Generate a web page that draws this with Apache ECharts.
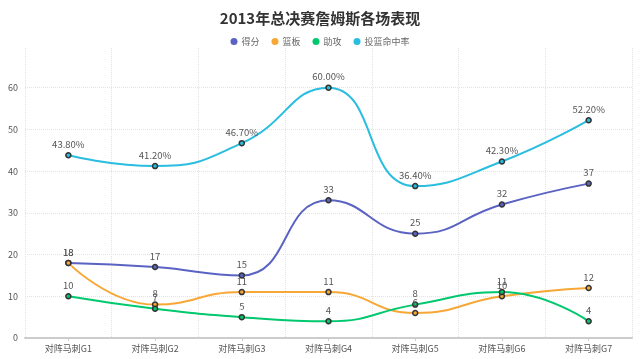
<!DOCTYPE html>
<html><head><meta charset="utf-8">
<script src="https://cdn.jsdelivr.net/npm/echarts@6/dist/echarts.min.js"></script>
<style>html,body{margin:0;padding:0;background:#fff}#c{width:640px;height:359px}</style>
</head><body><div id="c"></div>
<script>
var categories = ['对阵马刺G1','对阵马刺G2','对阵马刺G3','对阵马刺G4','对阵马刺G5','对阵马刺G6','对阵马刺G7'];
var points = [18,17,15,33,25,32,37];
var rebounds = [18,8,11,11,6,10,12];
var assists = [10,7,5,4,8,11,4];
var fgPct = [43.8,41.2,46.7,60.0,36.4,42.3,52.2];
var yTicks = [0,10,20,30,40,50,60];

var FONT = '"Noto Sans CJK SC", "Noto Sans", sans-serif';
var chart = echarts.init(document.getElementById('c'));
function mk(name, data, color, pct) {
  return {
    name: name, type: 'line', smooth: true, data: data,
    symbol: 'circle', symbolSize: 5,
    lineStyle: {color: color, width: 2},
    itemStyle: {color: color, borderColor: '#333', borderWidth: 1.5},
    label: {show: true, position: 'top', distance: 3, color: '#555', fontSize: 9.5, fontFamily: FONT,
      formatter: pct ? function(p){return p.value.toFixed(2)+'%';} : '{c}'},
    emphasis: {disabled: true}
  };
}
chart.setOption({
  animation: false,
  title: {text: '2013年总决赛詹姆斯各场表现', left: 'center', top: 6,
    textStyle: {fontSize: 15, fontWeight: 'bold', color: '#333', fontFamily: FONT}},
  legend: {top: 32, left: 'center', icon: 'circle', itemWidth: 7, itemHeight: 7, itemGap: 12,
    textStyle: {fontSize: 9, color: '#666', fontFamily: FONT, padding: [0,0,0,-1]},
    itemStyle: {borderWidth: 0}},
  grid: {left: 25, right: 8, top: 48, bottom: 21, containLabel: false},
  xAxis: {type: 'category', data: categories, boundaryGap: true,
    axisLine: {lineStyle: {color: '#ccc', width: 2}},
    axisTick: {show: true, alignWithLabel: true, length: 3, lineStyle: {color: '#ccc'}},
    axisLabel: {color: '#555', fontSize: 9, fontFamily: FONT, margin: 6, interval: 0},
    splitLine: {show: true, lineStyle: {color: '#e3e3e3', type: 'dotted'}}},
  yAxis: {type: 'value', min: yTicks[0], max: 69.5, interval: 10,
    axisLine: {show: false}, axisTick: {show: false},
    axisLabel: {color: '#555', fontSize: 9, fontFamily: FONT, showMaxLabel: false, margin: 7},
    splitLine: {show: true, showMaxLine: false, lineStyle: {color: '#e3e3e3', type: 'dotted'}}},
  series: [
    mk('得分', points, '#5b63c2'),
    mk('篮板', rebounds, '#f7a735'),
    mk('助攻', assists, '#00c86e'),
    mk('投篮命中率', fgPct, '#29bde0', true)
  ]
});
</script></body></html>
